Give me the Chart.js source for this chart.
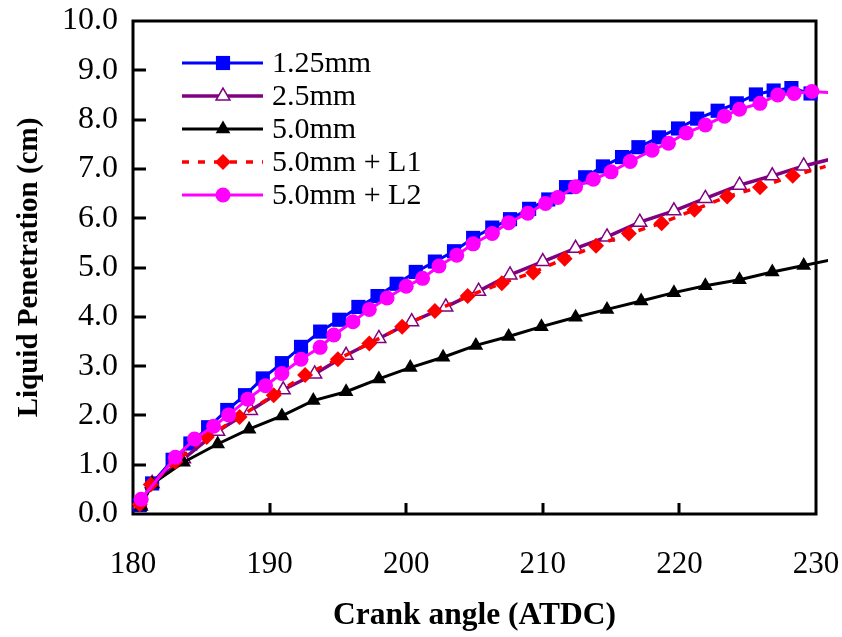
<!DOCTYPE html>
<html lang="en">
<head>
    <title>Liquid Penetration</title>
    <script src="https://cdn.jsdelivr.net/npm/chart.js@4.4.0/dist/chart.umd.min.js"></script>
    <style>
        body { margin: 0; background: #fff; }
    </style>
</head>
<body>
<canvas id="penetrationChart" width="842" height="637"></canvas>
<script>
// values: crank angle (deg ATDC) and liquid penetration (cm)
const angle125 = [180.5, 181.4, 182.9, 184.2, 185.5, 186.9, 188.2, 189.5, 190.9, 192.3, 193.7, 195.1, 196.5, 197.9, 199.3, 200.7, 202.1, 203.5, 204.9, 206.3, 207.6, 209.0, 210.4, 211.7, 213.1, 214.4, 215.8, 217.0, 218.5, 219.9, 221.3, 222.8, 224.2, 225.6, 226.9, 228.2, 229.6];
const pen125   = [0.18, 0.62, 1.10, 1.43, 1.76, 2.11, 2.41, 2.75, 3.06, 3.39, 3.70, 3.94, 4.20, 4.42, 4.67, 4.91, 5.12, 5.33, 5.60, 5.81, 5.98, 6.19, 6.38, 6.63, 6.83, 7.05, 7.24, 7.44, 7.64, 7.82, 8.02, 8.18, 8.33, 8.51, 8.59, 8.64, 8.53];

const angle25 = [180.5, 181.4, 183.7, 186.2, 188.6, 191.0, 193.3, 195.6, 198.0, 200.4, 202.9, 205.3, 207.6, 210.0, 212.4, 214.7, 217.1, 219.6, 221.9, 224.4, 226.8, 229.1, 231.4];
const pen25   = [0.20, 0.62, 1.12, 1.68, 2.10, 2.52, 2.84, 3.22, 3.56, 3.90, 4.20, 4.52, 4.85, 5.12, 5.39, 5.62, 5.92, 6.15, 6.40, 6.67, 6.86, 7.06, 7.22];

const angle50 = [180.6, 181.4, 183.7, 186.2, 188.5, 190.9, 193.2, 195.6, 198.0, 200.3, 202.7, 205.1, 207.5, 209.9, 212.4, 214.7, 217.2, 219.6, 221.9, 224.4, 226.8, 229.1, 231.5];
const pen50   = [0.15, 0.61, 1.05, 1.42, 1.72, 1.99, 2.30, 2.48, 2.74, 2.97, 3.18, 3.42, 3.60, 3.80, 3.99, 4.15, 4.32, 4.49, 4.63, 4.75, 4.91, 5.04, 5.18];

const angleL1 = [180.5, 181.3, 183.1, 185.4, 187.8, 190.3, 192.6, 195.0, 197.3, 199.7, 202.1, 204.5, 207.0, 209.3, 211.6, 213.9, 216.3, 218.7, 221.1, 223.5, 225.9, 228.3, 230.7];
const penL1   = [0.20, 0.60, 1.06, 1.56, 1.97, 2.41, 2.82, 3.14, 3.46, 3.80, 4.12, 4.42, 4.68, 4.90, 5.18, 5.44, 5.69, 5.90, 6.17, 6.44, 6.63, 6.86, 7.05];

const angleL2 = [180.6, 183.1, 184.5, 185.9, 187.0, 188.4, 189.7, 190.9, 192.3, 193.7, 194.7, 196.1, 197.3, 198.6, 200.0, 201.2, 202.4, 203.7, 204.9, 206.3, 207.5, 208.9, 210.2, 211.1, 212.4, 213.7, 215.0, 216.4, 218.0, 219.2, 220.5, 221.9, 223.3, 224.4, 225.9, 227.2, 228.4, 229.7, 231.0];
const penL2   = [0.30, 1.15, 1.52, 1.78, 2.01, 2.33, 2.60, 2.85, 3.14, 3.38, 3.63, 3.90, 4.15, 4.38, 4.62, 4.78, 5.03, 5.25, 5.48, 5.69, 5.91, 6.10, 6.30, 6.42, 6.64, 6.79, 6.94, 7.15, 7.38, 7.52, 7.73, 7.89, 8.07, 8.21, 8.33, 8.50, 8.53, 8.57, 8.55];

const seriesNames = ["1.25mm", "2.5mm", "5.0mm", "5.0mm + L1", "5.0mm + L2"];

const xMin = 180, xMax = 230, xStep = 10;
const yMin = 0, yMax = 10, yStep = 1;

function pairs(xs, ys) {
  return xs.map((x, i) => ({ x: x, y: ys[i] }));
}

// no marker for the bit of line that runs past the right frame
function radiusUpTo(r) {
  return ctx => (ctx.raw && ctx.raw.x > xMax ? 0 : r);
}

Chart.defaults.font.family = "'Liberation Serif', 'Times New Roman', serif";
Chart.defaults.color = "#000";

const outsideClip = { left: 10, top: 10, right: 12, bottom: 10 };

const datasets = [
  {
    label: seriesNames[0],
    data: pairs(angle125, pen125),
    borderColor: "#0000ff",
    backgroundColor: "#0000ff",
    borderWidth: 3,
    pointStyle: "rect",
    pointRadius: radiusUpTo(10),
    pointBorderWidth: 0,
    order: 5
  },
  {
    label: seriesNames[1],
    data: pairs(angle25, pen25),
    borderColor: "#800080",
    backgroundColor: "#ffffff",
    pointBorderColor: "#800080",
    borderWidth: 3.5,
    pointStyle: "triangle",
    pointRadius: radiusUpTo(8),
    pointBorderWidth: 1.5,
    order: 4
  },
  {
    label: seriesNames[2],
    data: pairs(angle50, pen50),
    borderColor: "#000000",
    backgroundColor: "#000000",
    borderWidth: 3,
    pointStyle: "triangle",
    pointRadius: radiusUpTo(8.5),
    pointBorderWidth: 0,
    order: 3
  },
  {
    label: seriesNames[3],
    data: pairs(angleL1, penL1),
    borderColor: "#ff0000",
    backgroundColor: "#ff0000",
    borderWidth: 3.5,
    borderDash: [7, 9],
    pointStyle: "rectRot",
    pointRadius: radiusUpTo(8),
    pointBorderWidth: 0,
    order: 2
  },
  {
    label: seriesNames[4],
    data: pairs(angleL2, penL2),
    borderColor: "#ff00ff",
    backgroundColor: "#ff00ff",
    borderWidth: 3,
    pointStyle: "circle",
    pointRadius: radiusUpTo(7.5),
    pointBorderWidth: 0,
    order: 1
  }
];
datasets.forEach(d => {
  d.clip = outsideClip;
  d.pointHoverRadius = 0;
  d.fill = false;
});

// frame round the plot and short ticks pointing inwards
const framePlugin = {
  id: "frame",
  beforeDatasetsDraw(chart) {
    const { ctx, chartArea: a, scales } = chart;
    ctx.save();
    ctx.strokeStyle = "#000";
    ctx.lineWidth = 3;
    ctx.beginPath();
    for (let v = yMin + yStep; v < yMax; v += yStep) {
      const y = Math.round(scales.y.getPixelForValue(v));
      ctx.moveTo(a.left, y);
      ctx.lineTo(a.left + 13, y);
    }
    for (let v = xMin + xStep; v < xMax; v += xStep) {
      const x = Math.round(scales.x.getPixelForValue(v));
      ctx.moveTo(x, a.bottom);
      ctx.lineTo(x, a.bottom - 11);
    }
    ctx.stroke();
    ctx.strokeRect(a.left, a.top, a.right - a.left, a.bottom - a.top);
    ctx.restore();
  }
};

// legend inside the plot, top left
const legendPlugin = {
  id: "insideLegend",
  afterDraw(chart) {
    const { ctx, chartArea: a } = chart;
    const x0 = a.left + 49, x1 = a.left + 130, xm = a.left + 90, xt = a.left + 139;
    ctx.save();
    chart.data.datasets.forEach((ds, i) => {
      const y = a.top + 42 + i * 33;
      ctx.strokeStyle = ds.borderColor;
      ctx.lineWidth = ds.borderWidth;
      ctx.setLineDash(ds.borderDash || []);
      ctx.beginPath();
      ctx.moveTo(x0, y);
      ctx.lineTo(x1, y);
      ctx.stroke();
      ctx.setLineDash([]);
      ctx.fillStyle = ds.backgroundColor;
      ctx.strokeStyle = ds.pointBorderColor || ds.borderColor;
      ctx.lineWidth = ds.pointBorderWidth;
      Chart.helpers.drawPoint(ctx, {
        pointStyle: ds.pointStyle,
        radius: ds.pointRadius({ raw: { x: xMin } }),
        borderWidth: ds.pointBorderWidth,
        rotation: 0
      }, xm, y);
      ctx.fillStyle = "#000";
      ctx.font = "30px 'Liberation Serif', 'Times New Roman', serif";
      ctx.textBaseline = "middle";
      ctx.textAlign = "left";
      ctx.fillText(ds.label, xt, y + 1);
    });
    ctx.restore();
  }
};

const penetrationCtx = document.getElementById("penetrationChart").getContext("2d");
const penetrationChart = new Chart(penetrationCtx, {
  type: "line",
  data: { datasets: datasets },
  options: {
    responsive: false,
    animation: false,
    events: [],
    layout: {
      padding: { left: 0, top: 21, right: 26, bottom: 0 }
    },
    plugins: {
      legend: { display: false },
      tooltip: { enabled: false }
    },
    scales: {
      x: {
        type: "linear",
        min: xMin,
        max: xMax,
        afterFit: s => { s.height = 123; s.paddingLeft = 0; s.paddingRight = 0; },
        border: { display: false },
        grid: { display: false, drawTicks: false },
        ticks: {
          stepSize: xStep,
          padding: 32,
          maxRotation: 0,
          font: { size: 31 }
        },
        title: {
          display: true,
          text: "Crank angle (ATDC)",
          padding: { top: 2, bottom: 2 },
          font: { size: 31.5, weight: "bold" }
        }
      },
      y: {
        min: yMin,
        max: yMax,
        afterFit: s => { s.width = 133; s.paddingTop = 0; s.paddingBottom = 0; },
        border: { display: false },
        grid: { display: false, drawTicks: false },
        ticks: {
          stepSize: yStep,
          padding: 15,
          font: { size: 32 },
          callback: v => Number(v).toFixed(1)
        },
        title: {
          display: true,
          text: "Liquid Penetration (cm)",
          padding: { top: 12, bottom: 0 },
          font: { size: 29, weight: "bold" }
        }
      }
    }
  },
  plugins: [framePlugin, legendPlugin]
});
</script>
</body>
</html>
